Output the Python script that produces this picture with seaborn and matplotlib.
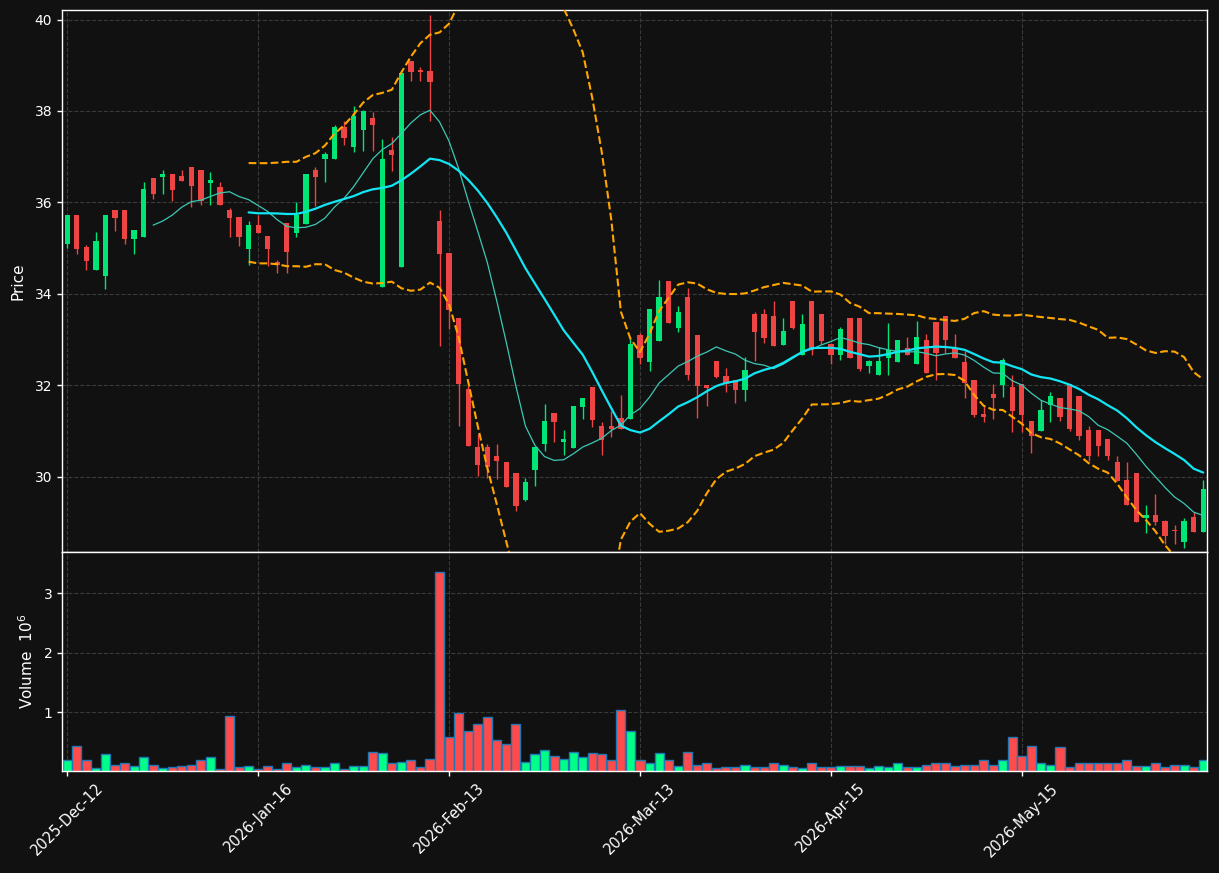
import numpy as np
import pandas as pd
import matplotlib
matplotlib.use("Agg")
import matplotlib.pyplot as plt
import seaborn as sns

# ==========================================
# Data
# ==========================================

opens = [35.09, 35.72, 35.02, 34.52, 34.39, 35.83, 35.83, 35.20, 35.24, 36.53,
         36.56, 36.62, 36.58, 36.77, 36.71, 36.42, 36.33, 35.83, 35.68, 34.97,
         35.51, 35.26, 34.69, 35.54, 35.34, 35.52, 36.71, 36.94, 36.94, 37.65,
         37.22, 37.59, 37.84, 34.14, 37.15, 34.59, 39.10, 38.88, 38.87, 35.60,
         34.89, 33.47, 31.92, 30.65, 30.65, 30.44, 30.32, 30.08, 29.48, 30.14,
         30.71, 31.39, 30.76, 30.63, 31.53, 31.95, 31.10, 31.10, 31.29, 31.27,
         33.10, 32.51, 32.97, 34.27, 33.25, 33.92, 33.10, 32.01, 32.52, 32.21,
         32.11, 31.90, 33.55, 33.55, 33.51, 32.88, 33.84, 32.65, 33.84, 33.55,
         32.90, 32.65, 33.47, 33.47, 32.42, 32.22, 32.60, 32.51, 32.81, 32.47,
         32.99, 33.38, 33.51, 32.81, 32.50, 32.11, 31.38, 31.80, 32.01, 31.95,
         32.02, 31.21, 31.00, 31.56, 31.72, 32.02, 31.76, 31.01, 31.01, 30.82,
         30.32, 29.92, 30.08, 29.09, 29.15, 29.03, 28.82, 28.56, 29.11, 28.78]

highs = [35.72, 35.72, 35.06, 35.35, 35.72, 35.83, 35.83, 35.39, 36.44, 36.53,
         36.71, 36.62, 36.71, 36.77, 36.71, 36.66, 36.44, 35.87, 35.68, 35.59,
         35.72, 35.26, 34.74, 35.54, 36.00, 36.62, 36.77, 37.11, 37.70, 37.79,
         38.12, 38.02, 37.98, 37.38, 37.43, 38.84, 39.10, 38.97, 40.09, 35.83,
         34.89, 33.47, 31.98, 30.94, 30.72, 30.72, 30.32, 30.08, 29.98, 30.65,
         31.59, 31.39, 31.01, 31.54, 31.72, 31.95, 31.20, 31.44, 31.79, 33.02,
         33.14, 33.67, 34.31, 34.27, 33.74, 34.12, 33.10, 32.01, 32.52, 32.37,
         32.11, 32.62, 33.60, 33.67, 33.84, 33.47, 33.84, 33.55, 33.84, 33.55,
         32.90, 33.27, 33.47, 33.47, 32.56, 32.84, 33.37, 32.99, 33.05, 33.41,
         33.13, 33.38, 33.51, 33.12, 32.74, 32.11, 31.56, 32.02, 32.60, 32.22,
         32.02, 31.21, 31.67, 31.86, 31.72, 32.02, 31.76, 31.10, 31.01, 30.82,
         30.46, 30.32, 30.08, 29.37, 29.62, 29.06, 28.94, 29.10, 29.22, 29.92]

lows = [35.00, 34.87, 34.52, 34.52, 34.11, 35.38, 35.10, 34.88, 35.24, 36.08,
        36.19, 36.03, 36.46, 35.91, 35.95, 35.95, 35.95, 35.25, 35.05, 34.63,
        35.34, 34.60, 34.45, 34.45, 35.25, 35.52, 35.93, 36.44, 36.94, 37.26,
        37.10, 37.13, 37.13, 34.14, 36.69, 34.59, 38.65, 38.65, 37.79, 32.85,
        33.23, 31.10, 30.68, 30.02, 29.96, 29.95, 29.77, 29.25, 29.46, 29.79,
        30.56, 30.76, 30.48, 30.63, 31.25, 31.09, 30.48, 30.87, 31.05, 31.27,
        32.47, 32.32, 32.97, 33.37, 33.17, 32.11, 31.29, 31.54, 32.15, 31.86,
        31.61, 31.66, 32.52, 32.93, 32.85, 32.88, 33.22, 32.65, 32.66, 32.91,
        32.47, 32.56, 32.60, 32.32, 32.27, 32.22, 32.23, 32.51, 32.65, 32.47,
        32.27, 32.11, 32.71, 32.60, 31.71, 31.31, 31.20, 31.25, 31.75, 30.97,
        30.97, 30.51, 31.00, 31.20, 31.21, 31.00, 30.81, 30.34, 30.46, 30.36,
        29.91, 29.37, 29.01, 28.76, 28.95, 28.52, 28.52, 28.44, 28.78, 28.78]

closes = [35.72, 34.97, 34.72, 35.16, 35.72, 35.66, 35.20, 35.39, 36.29, 36.19,
          36.62, 36.27, 36.46, 36.36, 36.04, 36.49, 35.95, 35.66, 35.24, 35.51,
          35.34, 34.97, 34.64, 34.92, 35.72, 36.62, 36.56, 37.06, 37.65, 37.41,
          37.89, 38.00, 37.70, 36.94, 37.03, 38.84, 38.86, 38.86, 38.63, 34.87,
          33.64, 32.03, 30.68, 30.26, 30.22, 30.34, 29.77, 29.35, 29.88, 30.65,
          31.21, 31.19, 30.82, 31.54, 31.72, 31.24, 30.80, 31.04, 31.05, 32.90,
          32.60, 33.67, 33.92, 33.37, 33.60, 32.22, 31.98, 31.94, 32.18, 32.03,
          31.90, 32.33, 33.17, 33.03, 32.85, 33.18, 33.26, 33.34, 32.78, 32.97,
          32.65, 33.22, 32.60, 32.36, 32.52, 32.52, 32.78, 32.99, 32.65, 33.05,
          32.27, 32.70, 32.99, 32.60, 32.05, 31.35, 31.31, 31.71, 32.56, 31.43,
          31.35, 30.89, 31.45, 31.76, 31.31, 31.04, 30.89, 30.46, 30.66, 30.46,
          29.91, 29.37, 29.01, 29.15, 29.01, 28.71, 28.80, 29.03, 28.78, 29.73]

# volume in millions
volumes = [0.20, 0.44, 0.20, 0.06, 0.29, 0.12, 0.14, 0.10, 0.24, 0.12,
           0.06, 0.08, 0.10, 0.12, 0.20, 0.24, 0.04, 0.93, 0.08, 0.10,
           0.045, 0.10, 0.05, 0.15, 0.08, 0.12, 0.08, 0.08, 0.14, 0.05,
           0.10, 0.10, 0.34, 0.31, 0.14, 0.17, 0.20, 0.08, 0.22, 3.36,
           0.59, 0.98, 0.68, 0.80, 0.92, 0.53, 0.47, 0.80, 0.17, 0.29,
           0.36, 0.27, 0.22, 0.34, 0.25, 0.31, 0.29, 0.19, 1.03, 0.68,
           0.19, 0.15, 0.32, 0.19, 0.10, 0.34, 0.12, 0.14, 0.06, 0.085,
           0.085, 0.12, 0.085, 0.085, 0.14, 0.12, 0.085, 0.07, 0.14, 0.085,
           0.085, 0.10, 0.10, 0.10, 0.07, 0.10, 0.085, 0.14, 0.08, 0.08,
           0.12, 0.14, 0.14, 0.10, 0.12, 0.12, 0.19, 0.12, 0.20, 0.59,
           0.27, 0.44, 0.14, 0.12, 0.41, 0.085, 0.14, 0.15, 0.15, 0.15,
           0.15, 0.20, 0.10, 0.10, 0.14, 0.085, 0.12, 0.12, 0.085, 0.20]

tick_positions = [0, 20, 40, 60, 80, 100]
tick_labels = ["2025-Dec-12", "2026-Jan-16", "2026-Feb-13",
               "2026-Mar-13", "2026-Apr-15", "2026-May-15"]

# ==========================================
# Frame
# ==========================================

df = pd.DataFrame({
    "idx": np.arange(len(closes)),
    "open": opens,
    "high": highs,
    "low": lows,
    "close": closes,
    "volume": volumes,
})
df["dir"] = np.where(df["close"] >= df["open"], "up", "down")
df["ma10"] = df["close"].rolling(10).mean()
df["ma20"] = df["close"].rolling(20).mean()
std20 = df["close"].rolling(20).std(ddof=0)
df["bb_up"] = df["ma20"] + 2 * std20
df["bb_lo"] = df["ma20"] - 2 * std20

bg = "#111111"
grid_col = "#3a3a3a"
up_col = "#00e676"
down_col = "#ef4444"
vol_up = "#00ff88"
vol_down = "#ff4b4b"

sns.set_theme(style="dark")
plt.rcParams.update({
    "figure.facecolor": bg,
    "axes.facecolor": bg,
    "axes.edgecolor": "white",
    "axes.labelcolor": "white",
    "xtick.color": "white",
    "ytick.color": "white",
    "xtick.bottom": True,
    "ytick.left": True,
    "font.family": ["DejaVu Sans"],
    "font.size": 10,
})

fig = plt.figure(figsize=(12.19, 8.73), dpi=100)
W, H = 1219, 873
ax = fig.add_axes([62 / W, 1 - 552 / H, (1207 - 62) / W, (552 - 10) / H])
axv = fig.add_axes([62 / W, 1 - 771 / H, (1207 - 62) / W, (771 - 552) / H], sharex=ax)

# ==========================================
# Candles
# ==========================================

colors = np.where(df["dir"] == "up", up_col, down_col)
ax.vlines(df["idx"], df["low"], df["high"], colors=colors, linewidth=1, zorder=2)
body_h = np.maximum((df["close"] - df["open"]).abs(), 0.03)
ax.bar(df["idx"], body_h, bottom=np.minimum(df["open"], df["close"]),
       width=0.55, color=colors, linewidth=0, zorder=3)

sns.lineplot(data=df, x="idx", y="ma10", ax=ax, color="#3cc8b4",
             linewidth=0.9, zorder=4)
sns.lineplot(data=df, x="idx", y="ma20", ax=ax, color="#12e6f5",
             linewidth=1.6, zorder=4)
for col in ["bb_up", "bb_lo"]:
    sns.lineplot(data=df, x="idx", y=col, ax=ax, color="#ffa500",
                 linewidth=1.5, linestyle="--", zorder=4)

# ==========================================
# Volume
# ==========================================

sns.barplot(data=df, x="idx", y="volume", hue="dir", ax=axv,
            palette={"up": vol_up, "down": vol_down}, native_scale=True,
            saturation=1, dodge=False, width=0.95, edgecolor="#1f77b4",
            linewidth=1, errorbar=None, legend=False)

# ==========================================
# Axes styling
# ==========================================

ax.set_xlim(-0.55, 119.4)
ax.set_ylim(28.35, 40.21)
ax.set_yticks([30, 32, 34, 36, 38, 40])
axv.set_ylim(0.3 * min(volumes), 1.1 * max(volumes))
axv.set_yticks([1, 2, 3])
axv.set_xticks(tick_positions)
axv.set_xticklabels(tick_labels, rotation=45, fontsize=10.5)

for a in (ax, axv):
    a.grid(True, color=grid_col, linestyle="--", linewidth=0.8)
    a.set_axisbelow(True)
    for s in a.spines.values():
        s.set_color("white")
        s.set_linewidth(1)
    a.tick_params(axis="y", labelsize=10, length=3.5, width=1)
    a.set_xlabel("")

ax.tick_params(axis="x", labelbottom=False, length=0)
axv.tick_params(axis="x", length=3.5, width=1)
ax.set_ylabel("Price", fontsize=11, color="white")
axv.set_ylabel("Volume  $10^{6}$", fontsize=11, color="white")
ax.yaxis.set_label_coords(-0.032, 0.5)
axv.yaxis.set_label_coords(-0.023, 0.5)

fig.savefig("out.png", dpi=100, facecolor=bg)
plt.close(fig)
